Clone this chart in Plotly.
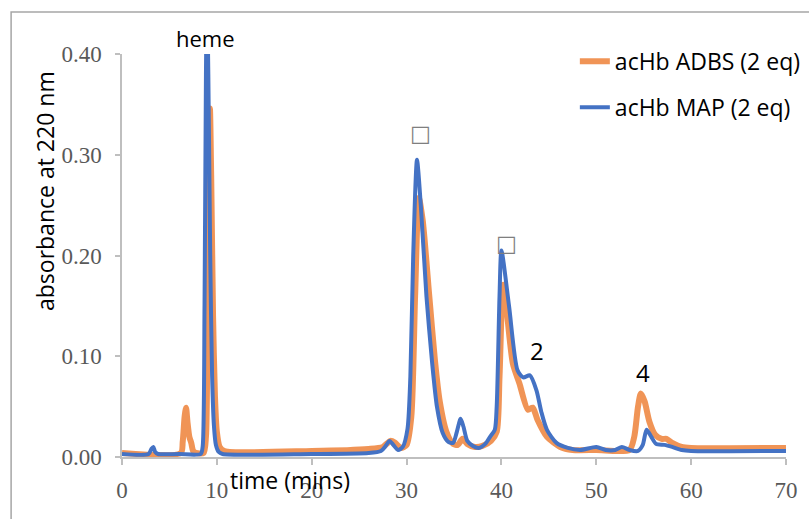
import plotly.graph_objects as go

# HPLC traces: absorbance at 220 nm vs retention time (mins)
adbs_time = [0, 6.2, 6.4, 6.6, 6.75, 6.9, 7.1, 7.3, 7.5, 7.8, 8.6, 8.85, 9.0, 9.15, 9.27, 9.4,
             9.6, 9.8, 10.0, 10.3, 10.8, 20, 26, 27.5, 28.3, 28.8, 29.4, 30.0, 30.5, 30.9,
             31.3, 31.7, 32.4, 33.0, 33.5, 34.2, 34.9, 35.4, 35.9, 36.4, 37.2, 38.0, 38.9,
             39.5, 39.8, 40.2, 41.2, 41.9, 42.8, 43.3, 43.8, 44.8, 46.2, 47.5, 50, 53.5,
             54.0, 54.4, 54.7, 55.1, 55.6, 56.2, 56.9, 57.4, 58.0, 59.0, 60, 70]
adbs_abs = [0.004, 0.004, 0.015, 0.040, 0.049, 0.035, 0.020, 0.014, 0.006, 0.004, 0.004, 0.020,
            0.120, 0.300, 0.346, 0.280, 0.140, 0.060, 0.025, 0.010, 0.006, 0.006, 0.008, 0.010,
            0.016, 0.014, 0.009, 0.012, 0.040, 0.160, 0.257, 0.235, 0.159, 0.095, 0.055, 0.025,
            0.013, 0.012, 0.018, 0.013, 0.010, 0.011, 0.016, 0.025, 0.080, 0.171, 0.093, 0.073,
            0.047, 0.049, 0.037, 0.020, 0.010, 0.007, 0.007, 0.007, 0.020, 0.050, 0.063, 0.055,
            0.035, 0.022, 0.018, 0.018, 0.014, 0.010, 0.009, 0.009]

map_time = [0, 2.8, 3.1, 3.3, 3.5, 3.8, 6, 8.3, 8.5, 8.7, 8.85, 8.96, 9.1, 9.3, 9.5, 9.7, 9.9,
            10.2, 10.6, 20, 26, 27.3, 27.8, 28.2, 28.6, 29.1, 29.6, 30.1, 30.4, 30.7, 31.1,
            31.5, 32.1, 32.7, 33.2, 33.8, 34.4, 34.9, 35.3, 35.7, 36.0, 36.4, 37.0, 37.6, 38.3,
            38.8, 39.3, 39.5, 39.8, 40.0, 40.8, 41.7, 42.3, 43.0, 43.7, 44.2, 44.8, 45.8, 47.0,
            48.3, 50.0, 51.0, 52.0, 52.7, 53.5, 54.4, 54.9, 55.3, 55.8, 56.3, 57.2, 58.0, 59.0,
            60, 70]
map_abs = [0.003, 0.003, 0.008, 0.010, 0.005, 0.003, 0.003, 0.003, 0.010, 0.150, 0.380, 0.460,
           0.380, 0.200, 0.080, 0.030, 0.012, 0.005, 0.003, 0.003, 0.004, 0.006, 0.011, 0.016,
           0.012, 0.007, 0.010, 0.028, 0.080, 0.200, 0.295, 0.250, 0.159, 0.093, 0.050, 0.024,
           0.015, 0.014, 0.025, 0.038, 0.030, 0.016, 0.011, 0.009, 0.013, 0.020, 0.027, 0.050,
           0.160, 0.205, 0.150, 0.086, 0.079, 0.081, 0.066, 0.045, 0.027, 0.014, 0.009, 0.007,
           0.010, 0.007, 0.007, 0.010, 0.007, 0.006, 0.012, 0.027, 0.020, 0.013, 0.012, 0.010,
           0.007, 0.006, 0.006]

series_names = ["acHb ADBS (2 eq)", "acHb MAP (2 eq)"]
x_ticks = [0, 10, 20, 30, 40, 50, 60, 70]
y_ticks = [0.0, 0.1, 0.2, 0.3, 0.4]

# Peak labels inside the plot (text, time, absorbance)
peak_labels = [("□", 31.5, 0.321), ("□", 40.5, 0.212), ("2", 43.75, 0.106), ("4", 54.9, 0.084)]
heme_label = ("heme", 8.75)

fig = go.Figure()
fig.add_trace(go.Scatter(x=adbs_time, y=adbs_abs, mode="lines", name=series_names[0],
                         legendgroup="a",
                         line=dict(color="rgba(237,125,49,0.82)", width=6,
                                   shape="spline", smoothing=0.7)))
fig.add_trace(go.Scatter(x=map_time, y=map_abs, mode="lines", name=series_names[1],
                         legendgroup="b",
                         line=dict(color="#4472C4", width=4, shape="spline", smoothing=0.7)))

axis_grey = "#BFBFBF"
tick_font = dict(family="Liberation Serif", size=23, color="#595959")
label_font = "Open Sans"

fig.update_xaxes(range=[0, 70], tickvals=x_ticks, ticktext=[str(v) for v in x_ticks],
                 showgrid=False, zeroline=False, showline=True, linecolor=axis_grey,
                 linewidth=1.5, ticks="outside", ticklen=6, tickcolor=axis_grey,
                 tickwidth=1.5, tickfont=tick_font, ticklabelstandoff=6)
fig.update_yaxes(range=[0, 0.40], tickvals=y_ticks, ticktext=[f"{v:.2f}" for v in y_ticks],
                 showgrid=False, zeroline=False, showline=True, linecolor=axis_grey,
                 linewidth=1.5, ticks="outside", ticklen=5, tickcolor=axis_grey,
                 tickwidth=1.5, tickfont=tick_font, ticklabelstandoff=9)

for text, t, a in peak_labels:
    is_box = text == "□"
    fig.add_annotation(x=t, y=a, text=text, showarrow=False,
                       xanchor="center", yanchor="middle",
                       font=dict(family="DejaVu Sans" if is_box else label_font,
                                 size=22 if is_box else 24,
                                 color="#7F7F7F" if is_box else "black"))
fig.add_annotation(x=heme_label[1], yref="paper", y=1.04, text=heme_label[0], showarrow=False,
                   xanchor="center", yanchor="middle",
                   font=dict(family=label_font, size=22, color="black"))

# axis titles
fig.add_annotation(xref="paper", yref="paper", x=0.253, y=-0.058, text="time (mins)",
                   xanchor="center", yanchor="middle", showarrow=False,
                   font=dict(family=label_font, size=23, color="black"))
fig.add_annotation(xref="paper", yref="paper", x=-0.116, y=0.66, text="absorbance at 220 nm",
                   xanchor="center", yanchor="middle", textangle=-90, showarrow=False,
                   font=dict(family=label_font, size=23, color="black"))

# chart frame
fig.add_shape(type="rect", xref="paper", yref="paper", x0=-0.167, x1=1.05, y0=-0.18, y1=1.104,
              line=dict(color="#A6A6A6", width=1.5), layer="below")

fig.update_layout(
    width=809, height=519,
    margin=dict(l=122, r=23, t=54, b=62, autoexpand=False),
    paper_bgcolor="white", plot_bgcolor="white",
    showlegend=True,
    legend=dict(x=0.682, y=1.035, xanchor="left", yanchor="top", tracegroupgap=13,
                font=dict(family=label_font, size=23, color="black"),
                bgcolor="rgba(0,0,0,0)"),
)

fig.write_html("out.html")
